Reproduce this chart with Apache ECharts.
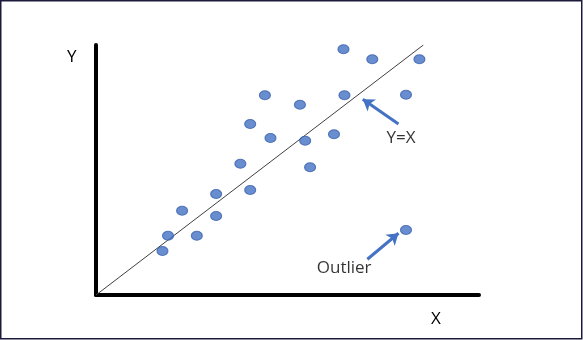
<!DOCTYPE html>
<html>
<head>
<meta charset="utf-8">
<script src="https://cdn.jsdelivr.net/npm/echarts@6/dist/echarts.min.js"></script>
<style>html,body{margin:0;padding:0;background:#fff}#c{width:583px;height:340px}</style>
</head>
<body>
<div id="c"></div>
<script>
// Data (arbitrary units)
var pointsX = [7.56, 8.44, 9.88, 5.16, 6.23, 7.59, 9.47, 4.71, 5.33, 6.39, 7.27, 4.41, 6.54, 3.67, 4.71, 2.63, 3.67, 2.20, 3.08, 2.03];
var pointsY = [9.83, 9.43, 9.43, 7.99, 7.61, 7.99, 8.01, 6.84, 6.28, 6.17, 6.43, 5.25, 5.11, 4.04, 4.20, 3.37, 3.16, 2.37, 2.37, 1.76];
var outlierX = [9.47];
var outlierY = [2.60];
var identityLine = [[0, 0], [10, 10]];
var arrowYX = [[9.24, 6.84], [8.15, 7.83]];
var arrowOutlier = [[8.29, 1.43], [9.24, 2.47]];
var labelNames = ['Y=X', 'Outlier'];
var labelPos = [[9.32, 6.28], [7.58, 1.07]];

var font = '"Open Sans", "Liberation Sans", sans-serif';
var blue = '#4472C4';

function zip(xs, ys) { return xs.map(function (x, i) { return [x, ys[i]]; }); }

var chart = echarts.init(document.getElementById('c'), null, { renderer: 'canvas' });
chart.setOption({
  animation: false,
  backgroundColor: '#fff',
  grid: { left: 96, top: 45, width: 383, height: 250, containLabel: false },
  xAxis: {
    type: 'value', min: 0, max: 11.7,
    axisLine: { show: true, lineStyle: { color: '#000', width: 4 } },
    axisTick: { show: false }, axisLabel: { show: false }, splitLine: { show: false }
  },
  yAxis: {
    type: 'value', min: 0, max: 10,
    axisLine: { show: true, lineStyle: { color: '#000', width: 4 } },
    axisTick: { show: false }, axisLabel: { show: false }, splitLine: { show: false }
  },
  graphic: [
    { type: 'rect', shape: { x: 0.75, y: 0.75, width: 581, height: 338 },
      style: { fill: 'none', stroke: '#1c1a3a', lineWidth: 1.5 }, z: 100 },
    { type: 'text', left: 67, top: 49, style: { text: 'Y', font: '17px ' + font, fill: '#000' } },
    { type: 'text', left: 431, top: 311, style: { text: 'X', font: '17px ' + font, fill: '#000' } }
  ],
  series: [
    {
      type: 'line', data: identityLine, showSymbol: false, symbol: 'none',
      lineStyle: { color: '#404040', width: 1 }, z: 1, silent: true,
      markLine: {
        silent: true, symbol: ['none', 'arrow'], symbolSize: [11, 11],
        label: { show: false },
        lineStyle: { color: blue, width: 3, type: 'solid' },
        data: [
          [{ coord: arrowYX[0] }, { coord: arrowYX[1] }],
          [{ coord: arrowOutlier[0] }, { coord: arrowOutlier[1] }]
        ]
      }
    },
    {
      type: 'scatter', data: zip(pointsX, pointsY).concat(zip(outlierX, outlierY)),
      symbol: 'circle', symbolSize: [11, 9],
      itemStyle: { color: blue, borderColor: '#3A62AE', borderWidth: 1 }, z: 3
    },
    {
      type: 'scatter', symbolSize: 0,
      data: labelNames.map(function (n, i) { return { name: n, value: labelPos[i] }; }),
      label: { show: true, position: 'inside', formatter: '{b}', color: '#000', fontSize: 17, fontFamily: font },
      z: 4
    }
  ]
});
</script>
</body>
</html>
